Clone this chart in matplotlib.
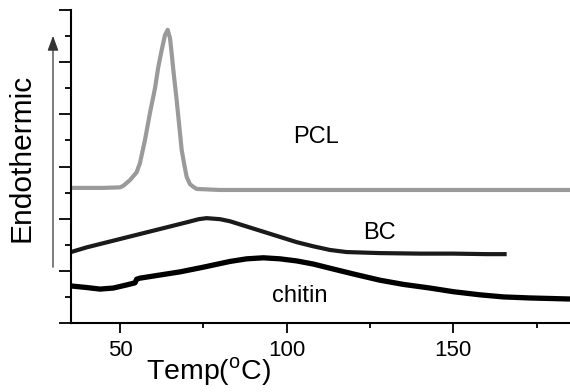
import matplotlib
matplotlib.use("Agg")
import matplotlib.pyplot as plt

plt.rcParams['font.family'] = ['Liberation Sans', 'DejaVu Sans']

# PCL trace
pcl_t = [35.3, 45, 50, 51, 53, 55, 56, 57.5, 59, 60.5, 61.5, 62.5, 63.5, 64.3, 65, 65.4, 66, 67, 68,
         68.5, 69.3, 70, 71, 72, 73, 80, 100, 120, 150, 185]
pcl_v = [2.59, 2.59, 2.60, 2.63, 2.74, 2.89, 3.07, 3.51, 4.03, 4.50, 4.91, 5.23, 5.52, 5.62, 5.46, 5.23,
         4.85, 4.27, 3.64, 3.32, 3.03, 2.80, 2.66, 2.61, 2.57, 2.55, 2.55, 2.55, 2.55, 2.55]

# BC trace
bc_t = [35.3, 40, 45, 50, 55, 60, 65, 70, 73.6, 76, 80, 83, 88, 93, 98, 103, 108, 113, 118, 128, 140, 150, 160, 166]
bc_v = [1.36, 1.45, 1.53, 1.61, 1.69, 1.77, 1.85, 1.93, 1.99, 2.01, 1.99, 1.95, 1.85, 1.75, 1.65, 1.55,
        1.47, 1.40, 1.36, 1.34, 1.33, 1.33, 1.32, 1.32]

# chitin trace
ch_t = [35.3, 40, 44, 48, 52, 54.5, 55, 56, 60, 68, 75, 83, 88, 93, 98, 103, 108, 113, 120, 128, 135,
        143, 150, 158, 165, 173, 185]
ch_v = [0.71, 0.68, 0.65, 0.67, 0.73, 0.77, 0.84, 0.86, 0.90, 0.98, 1.07, 1.18, 1.23, 1.25, 1.23, 1.19,
        1.13, 1.05, 0.94, 0.82, 0.74, 0.67, 0.60, 0.54, 0.50, 0.48, 0.46]

x_ticks = [50, 100, 150]
x_minor = [75, 125, 175]

fig = plt.figure(figsize=(5.70, 3.92), dpi=100)
ax = fig.add_axes([71/570, 1-323/392, 1-71/570, (323-10)/392])

ax.plot(pcl_t, pcl_v, color='#9a9a9a', lw=3.0, solid_capstyle='butt')
ax.plot(bc_t, bc_v, color='#1a1a1a', lw=3.0, solid_capstyle='butt')
ax.plot(ch_t, ch_v, color='black', lw=3.8, solid_capstyle='butt')

ax.set_xlim(35.3, 185)
ax.set_ylim(0, 6)
ax.set_xticks(x_ticks)
ax.set_xticks(x_minor, minor=True)
ax.set_yticks(range(0, 7))
ax.set_yticks([0.5 + i for i in range(6)], minor=True)
ax.set_yticklabels([])
ax.tick_params(axis='x', which='major', direction='out', length=7.2, width=1.3, labelsize=16, pad=5)
ax.tick_params(axis='x', which='minor', direction='out', length=3.6, width=1.3)
ax.tick_params(axis='y', which='major', direction='out', length=8.6, width=1.3)
ax.tick_params(axis='y', which='minor', direction='out', length=4.3, width=1.3)
for s in ['top', 'right']:
    ax.spines[s].set_visible(False)
for s in ['left', 'bottom']:
    ax.spines[s].set_linewidth(1.5)

ax.text(316/570, 1-137/392, 'PCL', transform=fig.transFigure, fontsize=17, ha='center', va='center')
ax.text(379/570, 1-233/392, 'BC', transform=fig.transFigure, fontsize=17, ha='center', va='center')
ax.text(300/570, 1-296/392, 'chitin', transform=fig.transFigure, fontsize=17, ha='center', va='center')

fig.text(208/570, 1-372/392, 'Temp($^{\\mathregular{o}}$C)', fontsize=20.5, ha='center', va='center')
fig.text(22/570, 1-158/392, 'Endothermic', fontsize=21.5, ha='center', va='center', rotation=90)

fig.patches.append(matplotlib.patches.FancyArrowPatch(
    (53/570, 1-270/392), (53/570, 1-33/392), transform=fig.transFigure,
    arrowstyle='-|>,head_length=6,head_width=2.2', color='#333333', lw=0.9, mutation_scale=1.5))

fig.savefig('out.png', dpi=100)
